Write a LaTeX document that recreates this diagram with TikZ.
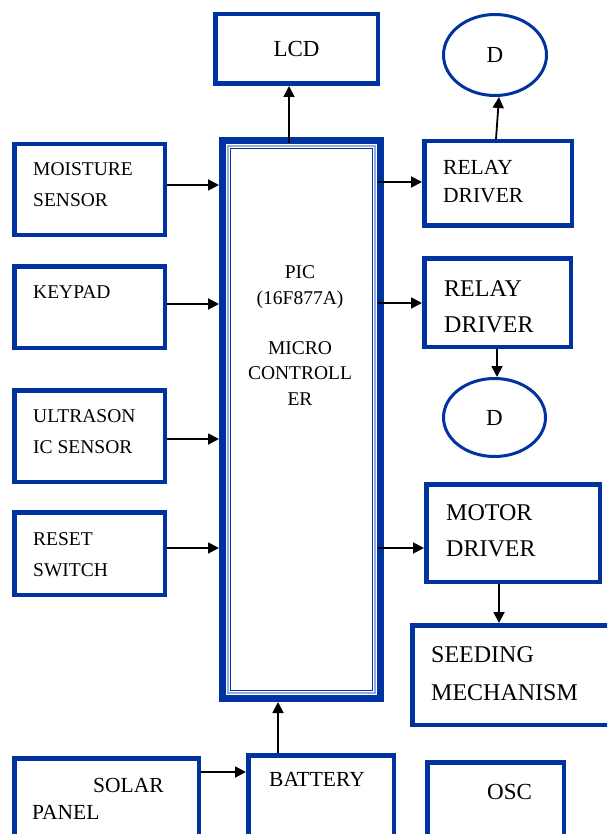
\documentclass[tikz,border=0pt]{standalone}
\usepackage{fontspec}
\setmainfont{Liberation Serif}
\usetikzlibrary{shapes.geometric,arrows.meta}
\definecolor{boxblue}{RGB}{0,51,160}
\definecolor{lineblue}{RGB}{150,172,222}
\tikzset{
  blk/.style={draw=boxblue, line width=4.5pt, inner sep=0pt},
  rnd/.style={ellipse, draw=boxblue, line width=3pt, inner sep=0pt, font=\fontsize{23}{27}\selectfont},
  lbl/.style={anchor=base west, inner sep=0pt, align=left, font=\fontsize{19.5}{31}\selectfont},
  bigtxt/.style={font=\fontsize{24}{36}\selectfont},
  arr/.style={-{Triangle[length=11pt,width=11pt]}, line width=1.8pt}
}

\begin{document}
\begin{tikzpicture}[x=1pt, y=-1pt]
\useasboundingbox (0,0) rectangle (607,834);
\clip (0,0) rectangle (607,834);

% Microcontroller with its double border
\node[draw=boxblue, line width=7pt, minimum width=158pt, minimum height=558pt, inner sep=0pt] (pic) at (301.5,419.5) {};
\draw[lineblue, line width=2pt] ([shift={(9,9)}]pic.north west) rectangle ([shift={(-9,-9)}]pic.south east);
\draw[boxblue, line width=1.2pt] ([shift={(11.5,11.5)}]pic.north west) rectangle ([shift={(-11.5,-11.5)}]pic.south east);
\node[anchor=north, inner sep=0pt, align=center, font=\fontsize{19.5}{25.5}\selectfont] (pictxt) at (300,265.5)
  {PIC\\(16F877A)\\[24.5pt]MICRO\\CONTROLL\\ER};

% Blocks
\node[blk, minimum width=162.5pt, minimum height=69.5pt, font=\fontsize{23}{27}\selectfont] (lcd) at (296.5,49) {LCD};
\node[blk, minimum width=150.5pt, minimum height=90.5pt] (moist) at (89.5,189.5) {};
\node[blk, minimum width=150.5pt, minimum height=81.5pt] (keypad) at (89.5,307) {};
\node[blk, minimum width=150.5pt, minimum height=91.5pt] (ultra) at (89.5,436) {};
\node[blk, minimum width=150.5pt, minimum height=82.5pt] (reset) at (89.5,553.5) {};
\node[blk, minimum width=147.5pt, minimum height=84.5pt] (relayA) at (498,183.5) {};
\node[blk, minimum width=146.5pt, minimum height=88.5pt] (relayB) at (497.5,302.5) {};
\node[blk, minimum width=173.5pt, minimum height=97.5pt] (motor) at (513,533) {};
\node[blk, minimum width=197.5pt, minimum height=99.5pt] (seed) at (511,675) {};
\node[blk, minimum width=184.5pt, minimum height=89.5pt] (solar) at (106.5,803) {};
\node[blk, minimum width=145.5pt, minimum height=92.5pt] (batt) at (321,801.5) {};
\node[blk, minimum width=136.5pt, minimum height=85.5pt] (osc) at (495.5,805) {};

% Loads
\node[rnd, minimum width=103pt, minimum height=81pt] (dA) at (495,55) {D};
\node[rnd, minimum width=102pt, minimum height=78pt] (dB) at (494.5,417.5) {D};

% Block texts (base is the last line)
\node[lbl] (tmoist) at (33,207) {MOISTURE\\SENSOR};
\node[lbl] (tkeypad) at (33,298) {KEYPAD};
\node[lbl] (tultra) at (33,453) {ULTRASON\\IC SENSOR};
\node[lbl] (treset) at (33,576) {RESET\\SWITCH};
\node[lbl, font=\fontsize{21.5}{28}\selectfont] (trelayA) at (443,203) {RELAY\\DRIVER};
\node[lbl, bigtxt] (trelayB) at (444,332) {RELAY\\DRIVER};
\node[lbl, bigtxt] (tmotor) at (446,556.5) {MOTOR\\DRIVER};
\node[lbl, font=\fontsize{24}{38}\selectfont] (tseed) at (431,700) {SEEDING\\MECHANISM};
\node[lbl, font=\fontsize{21.5}{27}\selectfont] (tsolar) at (32,819) {\hspace*{61pt}SOLAR\\PANEL};
\node[lbl, font=\fontsize{21.5}{27}\selectfont] (tbatt) at (269,786) {BATTERY};
\node[lbl, font=\fontsize{23}{27}\selectfont] (tosc) at (487,799) {OSC};

% Inputs to the controller
\coordinate (mo) at ([yshift=4.5pt]moist.east);
\coordinate (ke) at ([yshift=3pt]keypad.east);
\coordinate (ul) at ([yshift=-3pt]ultra.east);
\coordinate (re) at ([yshift=5.5pt]reset.east);
\draw[arr] (mo) -- (mo -| pic.west);
\draw[arr] (ke) -- (ke -| pic.west);
\draw[arr] (ul) -- (ul -| pic.west);
\draw[arr] (re) -- (re -| pic.west);

% Outputs of the controller
\coordinate (ra) at ([yshift=1.5pt]relayA.west);
\coordinate (rb) at ([yshift=-0.5pt]relayB.west);
\coordinate (mt) at ([yshift=-15pt]motor.west);
\coordinate (lc) at ([xshift=-7.5pt]lcd.south);
\draw[arr, shorten <=-6pt] (ra -| pic.east) -- (ra);
\draw[arr, shorten <=-6pt] (rb -| pic.east) -- (rb);
\draw[arr, shorten <=-6pt] (mt -| pic.east) -- (mt);
\draw[arr, shorten <=-6pt] (lc |- pic.north) -- (lc);

% Drivers to loads
\draw[arr] ([xshift=-2pt]relayA.north) -- ([xshift=4pt]dA.south);
\coordinate (rd) at ([xshift=-0.5pt]relayB.south);
\draw[arr] (rd) -- (rd |- dB.north);
\coordinate (ms) at ([xshift=-14pt]motor.south);
\draw[arr] (ms) -- (ms |- seed.north);

% Power
\coordinate (bt) at ([xshift=-43pt]batt.north);
\coordinate (sp) at ([yshift=-19pt]batt.north west);
\draw[arr] (bt) -- (bt |- pic.south);
\draw[arr] (sp -| solar.east) -- (sp);

\end{tikzpicture}
\end{document}
